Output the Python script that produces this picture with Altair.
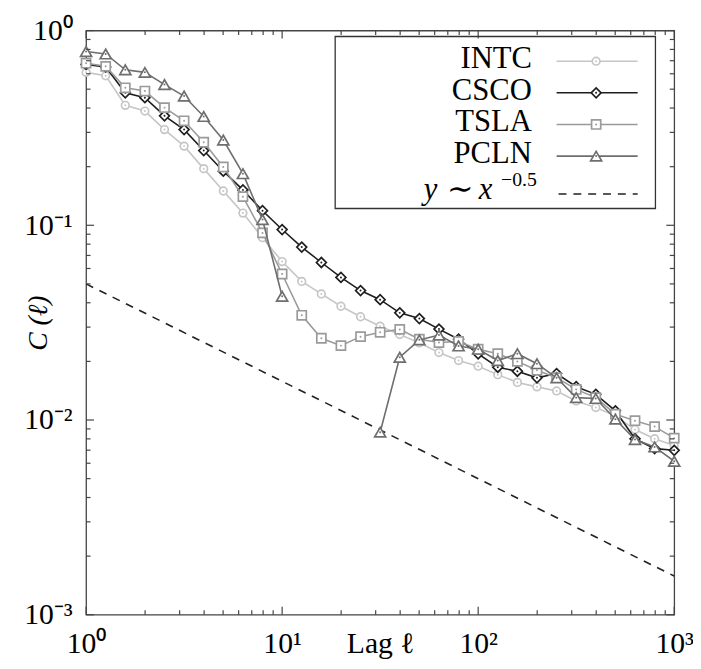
import altair as alt
import pandas as pd

# ---------------- data ----------------
lags = [1, 1.259, 1.585, 1.995, 2.512, 3.162, 3.981, 5.012, 6.310, 7.943,
        10, 12.59, 15.85, 19.95, 25.12, 31.62, 39.81, 50.12, 63.10, 79.43,
        100, 125.9, 158.5, 199.5, 251.2, 316.2, 398.1, 501.2, 631.0, 794.3, 1000]

intc = [0.61, 0.586, 0.413, 0.386, 0.31, 0.255, 0.1954, 0.150, 0.1155, 0.0864,
        0.0651, 0.0515, 0.0444, 0.0384, 0.0339, 0.0303, 0.0275, 0.0249, 0.0222, 0.0202,
        0.0189, 0.0171, 0.0156, 0.0148, 0.0141, 0.01253, 0.0116, 0.0105, 0.00893, 0.00801, 0.0074]

csco = [0.67, 0.65, 0.479, 0.452, 0.365, 0.31, 0.242, 0.1896, 0.152, 0.1188,
        0.0951, 0.0773, 0.0644, 0.054, 0.0462, 0.0415, 0.0355, 0.0332, 0.0293, 0.026,
        0.02188, 0.01866, 0.0178, 0.01647, 0.01733, 0.01483, 0.01355, 0.01115, 0.00801, 0.00713, 0.00699]

tsla = [0.68, 0.655, 0.508, 0.489, 0.402, 0.344, 0.267, 0.1993, 0.1403, 0.0914,
        0.0562, 0.0345, 0.0263, 0.0241, 0.0268, 0.0282, 0.0292, 0.026, 0.025, 0.0253,
        0.0231, 0.0219, 0.020, 0.018, 0.0165, 0.01436, 0.01303, 0.01072, 0.00992, 0.00925, 0.00807]

pcln = [0.78, 0.758, 0.629, 0.61, 0.528, 0.461, 0.362, 0.274, 0.184, 0.107,
        0.0432, None, None, None, None, 0.00866, 0.021, 0.0258, 0.0273, 0.024,
        0.0231, 0.0202, 0.0219, 0.01946, 0.01647, 0.01303, 0.0129, 0.0101, 0.00794, 0.00727, 0.00614]

series_names = ["INTC", "CSCO", "TSLA", "PCLN"]
series_values = [intc, csco, tsla, pcln]
series_colors = ["#c6c6c6", "#1e1e1e", "#9a9a9a", "#6e6e6e"]
series_shapes = ["circle", "diamond", "square", "triangle-up"]
series_sizes = [60, 100, 85, 125]

ref_x = [1, 1000]
ref_y = [0.05, 0.00158]

x_major = [1, 10, 100, 1000]
x_minor = [2, 3, 4, 5, 6, 7, 8, 9, 20, 30, 40, 50, 60, 70, 80, 90,
           200, 300, 400, 500, 600, 700, 800, 900]
y_major = [0.001, 0.01, 0.1, 1]
y_minor = [0.002, 0.003, 0.004, 0.005, 0.006, 0.007, 0.008, 0.009,
           0.02, 0.03, 0.04, 0.05, 0.06, 0.07, 0.08, 0.09,
           0.2, 0.3, 0.4, 0.5, 0.6, 0.7, 0.8, 0.9]

legend_rows = [0, 1, 2, 3]
ref_row = 4.2
ref_label = "y ∼ x"
ref_exponent = "−0.5"

# ---------------- styling ----------------
SERIF = "Liberation Serif"
W, H = 595, 591
FRAME = "#444444"
MAJ, MIN = 8, 4.5

xs = alt.Scale(type="log", domain=[1, 1000], nice=False)
ys = alt.Scale(type="log", domain=[0.001, 1], nice=False)

xaxis = alt.Axis(
    values=x_major,
    labelExpr="datum.value < 5 ? '10⁰' : datum.value < 50 ? '10¹' : datum.value < 500 ? '10²' : '10³'",
    ticks=False, tickSize=0, domain=False, grid=False,
    labelFlush=False, labelOverlap=False,
    labelFont=SERIF, labelFontSize=30, labelColor="black",
    labelBaseline="alphabetic", labelPadding=38,
    title="Lag ℓ", titleFont=SERIF, titleFontSize=30, titleFontWeight="normal",
    titleColor="black", titleX=W / 2, titleY=38, titleBaseline="alphabetic",
)
yaxis = alt.Axis(
    values=y_major,
    labelExpr="datum.value > 0.5 ? '10⁰' : datum.value > 0.05 ? '10⁻¹' : datum.value > 0.005 ? '10⁻²' : '10⁻³'",
    ticks=False, tickSize=0, domain=False, grid=False,
    labelFlush=False, labelOverlap=False,
    labelFont=SERIF, labelFontSize=30, labelColor="black",
    labelBaseline="middle", labelPadding=14,
    title="C (ℓ)", titleFont=SERIF, titleFontSize=28, titleFontWeight="normal",
    titleFontStyle="italic", titleColor="black",
    titleX=-40, titleY=H / 2, titleBaseline="alphabetic", titleAngle=270,
)


def X(field):
    return alt.X(field, type="quantitative", scale=xs, axis=xaxis)


def Y(field):
    return alt.Y(field, type="quantitative", scale=ys, axis=yaxis)


def series_frame(vals):
    rows = []
    seg = 0
    for x, v in zip(lags, vals):
        if v is None:
            seg += 1
            continue
        rows.append({"lag": x, "value": v, "seg": seg})
    return pd.DataFrame(rows)


# reference power law
ref = alt.Chart(pd.DataFrame({"lag": ref_x, "value": ref_y})).mark_line(
    color="#222222", strokeWidth=1.6, strokeDash=[8, 7]
).encode(x=X("lag"), y=Y("value"))

layers = [ref]
for name, vals, col, shp, sz in zip(series_names, series_values, series_colors,
                                    series_shapes, series_sizes):
    base = alt.Chart(series_frame(vals)).encode(x=X("lag"), y=Y("value"))
    layers.append(base.mark_line(color=col, strokeWidth=1.6).encode(detail="seg:N"))
    layers.append(base.mark_point(shape=shp, size=sz, filled=True, fill="white",
                                  stroke=col, strokeWidth=1.7, opacity=1))
    layers.append(base.mark_circle(size=4, color=col, opacity=1))

# inward ticks on all four sides
for vals, L in [(x_major, MAJ), (x_minor, MIN)]:
    d = pd.DataFrame({"v": vals})
    layers.append(alt.Chart(d).mark_rule(color=FRAME, strokeWidth=1.2).encode(
        x=X("v"), y=alt.value(H), y2=alt.value(H - L)))
    layers.append(alt.Chart(d).mark_rule(color=FRAME, strokeWidth=1.2).encode(
        x=X("v"), y=alt.value(0), y2=alt.value(L)))
for vals, L in [(y_major, MAJ), (y_minor, MIN)]:
    d = pd.DataFrame({"v": vals})
    layers.append(alt.Chart(d).mark_rule(color=FRAME, strokeWidth=1.2).encode(
        y=Y("v"), x=alt.value(0), x2=alt.value(L)))
    layers.append(alt.Chart(d).mark_rule(color=FRAME, strokeWidth=1.2).encode(
        y=Y("v"), x=alt.value(W), x2=alt.value(W - L)))

main = alt.layer(*layers)

# ---------------- legend ----------------
ls = alt.Scale(domain=[0, 4], range=[31, 159])
LX_TEXT, LX0, LX1, LXM = 451, 476, 558, 516

leg_layers = []
leg_layers.append(alt.Chart(pd.DataFrame({"a": [0]})).mark_rect(
    fill="white", fillOpacity=0, stroke="#333333", strokeWidth=1.3
).encode(x=alt.value(252), x2=alt.value(576), y=alt.value(6), y2=alt.value(180)))

for name, row, col, shp, sz in zip(series_names, legend_rows, series_colors,
                                   series_shapes, series_sizes):
    d = pd.DataFrame({"name": [name], "row": [row]})
    yy = alt.Y("row:Q", scale=ls, axis=None)
    leg_layers.append(alt.Chart(d).mark_rule(color=col, strokeWidth=1.6).encode(
        y=yy, x=alt.value(LX0), x2=alt.value(LX1)))
    leg_layers.append(alt.Chart(d).mark_point(shape=shp, size=sz, filled=True, fill="white",
                                              stroke=col, strokeWidth=1.7, opacity=1).encode(
        y=yy, x=alt.value(LXM)))
    leg_layers.append(alt.Chart(d).mark_circle(size=4, color=col, opacity=1).encode(
        y=yy, x=alt.value(LXM)))

txt = pd.DataFrame({"name": series_names, "row": legend_rows})
leg_layers.append(alt.Chart(txt).mark_text(
    font=SERIF, fontSize=31, align="right", baseline="alphabetic", dy=7, color="black"
).encode(y=alt.Y("row:Q", scale=ls, axis=None), x=alt.value(LX_TEXT), text="name:N"))

rd = pd.DataFrame({"name": [ref_label], "sup": [ref_exponent], "row": [ref_row]})
ry = alt.Y("row:Q", scale=ls, axis=None)
leg_layers.append(alt.Chart(rd).mark_rule(color="#222222", strokeWidth=1.6,
                                          strokeDash=[8, 7]).encode(
    y=ry, x=alt.value(LX0 + 2), x2=alt.value(LX1)))
leg_layers.append(alt.Chart(rd).mark_text(
    font=SERIF, fontSize=31, fontStyle="italic", align="right", baseline="alphabetic",
    dy=5, color="black"
).encode(y=ry, x=alt.value(411), text="name:N"))
leg_layers.append(alt.Chart(rd).mark_text(
    font=SERIF, fontSize=20, align="right", baseline="alphabetic", dy=-8, color="black"
).encode(y=ry, x=alt.value(456), text="sup:N"))

legend = alt.layer(*leg_layers)

chart = alt.layer(main, legend).resolve_scale(
    x="independent", y="independent"
).properties(
    width=W, height=H,
    padding={"left": 79, "top": 19, "right": 19, "bottom": 45},
    autosize=alt.AutoSizeParams(type="none"),
).configure_view(stroke=FRAME, strokeWidth=1.3)

chart.save("out.html", embed_options={"renderer": "svg", "actions": False})
